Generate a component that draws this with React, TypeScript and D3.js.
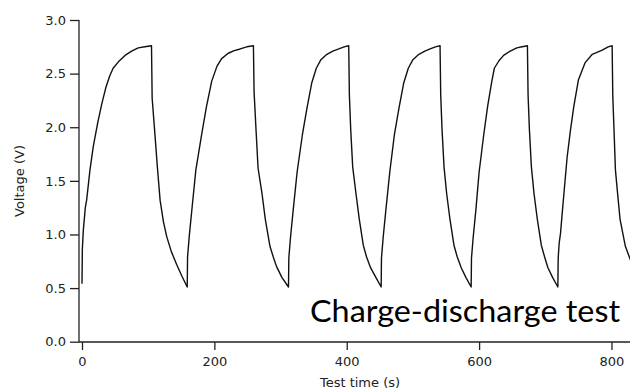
import React, { useEffect, useRef } from 'react';
import * as d3 from 'd3';

const testTime = [
  0, 0.5, 2, 5, 7, 12, 17, 24, 30, 36, 42, 47, 55, 65, 75, 85, 95, 105,
  106, 110, 114, 118, 123, 128, 135, 143, 151, 159,
  159.5, 162, 166, 172, 181, 188, 196, 204, 211, 221, 230, 239, 249, 259,
  260, 263, 266, 272, 277, 284, 289, 294, 302, 312,
  312.5, 315, 319, 325, 333, 340, 347, 354, 361, 370, 379, 388, 396, 403,
  404, 406, 409, 414, 419, 425, 430, 436, 444, 452,
  452.5, 455, 459, 465, 472, 479, 486, 493, 500, 509, 518, 526, 534, 541,
  542, 544, 547, 551, 556, 562, 567, 573, 580, 588,
  588.5, 591, 595, 600, 607, 613, 619, 623, 630, 637, 647, 657, 665, 673,
  674, 676, 679, 683, 688, 694, 699, 704, 711, 719,
  719.5, 721, 723, 727, 733, 738, 743, 750, 760, 771, 786, 795, 801,
  802, 804, 806, 809, 813, 821, 830,
];
const voltage = [
  0.54, 0.86, 1.04, 1.25, 1.32, 1.6, 1.82, 2.05, 2.22, 2.37, 2.48, 2.55, 2.61, 2.67, 2.71, 2.74, 2.75, 2.76,
  2.27, 1.95, 1.62, 1.32, 1.12, 0.98, 0.84, 0.72, 0.61, 0.51,
  0.79, 0.98, 1.23, 1.6, 1.94, 2.19, 2.43, 2.57, 2.64, 2.69, 2.715, 2.73, 2.75, 2.76,
  2.33, 1.97, 1.62, 1.38, 1.14, 0.89, 0.79, 0.7, 0.6, 0.51,
  0.78, 0.97, 1.22, 1.58, 1.93, 2.18, 2.41, 2.55, 2.63, 2.68, 2.71, 2.73, 2.75, 2.76,
  2.3, 1.98, 1.63, 1.38, 1.14, 0.9, 0.79, 0.69, 0.6, 0.51,
  0.78, 0.97, 1.22, 1.58, 1.93, 2.18, 2.41, 2.55, 2.63, 2.68, 2.71, 2.73, 2.75, 2.76,
  2.3, 1.98, 1.63, 1.38, 1.14, 0.9, 0.79, 0.69, 0.6, 0.51,
  0.78, 0.97, 1.22, 1.58, 1.93, 2.2, 2.42, 2.55, 2.62, 2.67, 2.71, 2.74, 2.75, 2.76,
  2.3, 1.98, 1.63, 1.38, 1.14, 0.9, 0.79, 0.69, 0.6, 0.51,
  0.78, 0.92, 1.01, 1.3, 1.72, 1.97, 2.19, 2.44, 2.6, 2.68, 2.72, 2.75, 2.76,
  2.29, 1.95, 1.6, 1.4, 1.14, 0.89, 0.74,
];
const xTicks = [0, 200, 400, 600, 800];
const yTicks = [0, 0.5, 1, 1.5, 2, 2.5, 3];

const width = 630;
const height = 392;
const left = 79;
const x0 = 82;
const top = 20;
const bottom = 342;

export default function App() {
  const ref = useRef<SVGSVGElement>(null);

  useEffect(() => {
    const svg = d3.select(ref.current);
    svg.selectAll('*').remove();

    const x = d3.scaleLinear().domain([0, 828]).range([x0, width]);
    const y = d3.scaleLinear().domain([0, 3]).range([bottom - 0.3, top]);
    const font = 'DejaVu Sans, sans-serif';

    svg.append('defs').append('clipPath').attr('id', 'plot')
      .append('rect').attr('x', left).attr('y', 0).attr('width', width - left).attr('height', bottom);

    const yAxis = svg.append('g')
      .attr('transform', `translate(${left},0)`)
      .call(d3.axisLeft(y).tickValues(yTicks).tickSize(9).tickSizeOuter(0).tickPadding(4).tickFormat(d3.format('.1f')));
    yAxis.select('.domain').remove();
    yAxis.selectAll('text').attr('font-family', font).attr('font-size', 13).attr('fill', '#222');
    yAxis.selectAll('line').attr('stroke', '#222').attr('stroke-width', 1.3);

    const xAxis = svg.append('g')
      .attr('transform', `translate(0,${bottom})`)
      .call(d3.axisBottom(x).tickValues(xTicks).tickSize(8).tickSizeOuter(0).tickPadding(7).tickFormat(d3.format('d')));
    xAxis.select('.domain').remove();
    xAxis.selectAll('text').attr('font-family', font).attr('font-size', 13).attr('fill', '#222');
    xAxis.selectAll('line').attr('stroke', '#222').attr('stroke-width', 1.3);

    svg.append('line').attr('x1', left).attr('x2', left).attr('y1', top).attr('y2', bottom)
      .attr('stroke', '#222').attr('stroke-width', 1.3);
    svg.append('line').attr('x1', left).attr('x2', width).attr('y1', bottom).attr('y2', bottom)
      .attr('stroke', '#222').attr('stroke-width', 1.3);

    const pts: [number, number][] = testTime.map((t, i) => [t, voltage[i]]);
    const line = d3.line<[number, number]>().x(d => x(d[0])).y(d => y(d[1]));
    svg.append('path')
      .attr('d', line(pts))
      .attr('clip-path', 'url(#plot)')
      .attr('fill', 'none')
      .attr('stroke', '#111')
      .attr('stroke-width', 1.4)
      .attr('stroke-linejoin', 'round');

    svg.append('text')
      .attr('x', 360).attr('y', 387)
      .attr('text-anchor', 'middle')
      .attr('font-family', font).attr('font-size', 13).attr('fill', '#222')
      .text('Test time (s)');

    svg.append('text')
      .attr('transform', 'translate(24,181) rotate(-90)')
      .attr('text-anchor', 'middle')
      .attr('font-family', font).attr('font-size', 13).attr('fill', '#222')
      .text('Voltage (V)');

    svg.append('text')
      .attr('x', 310).attr('y', 322)
      .attr('textLength', 310).attr('lengthAdjust', 'spacingAndGlyphs')
      .attr('font-family', 'Lato, sans-serif').attr('font-size', 31).attr('fill', '#000')
      .text('Charge-discharge test');
  }, []);

  return (
    <svg ref={ref} width={width} height={height}
      style={{ position: 'absolute', left: 0, top: 0, background: '#fff' }} />
  );
}
